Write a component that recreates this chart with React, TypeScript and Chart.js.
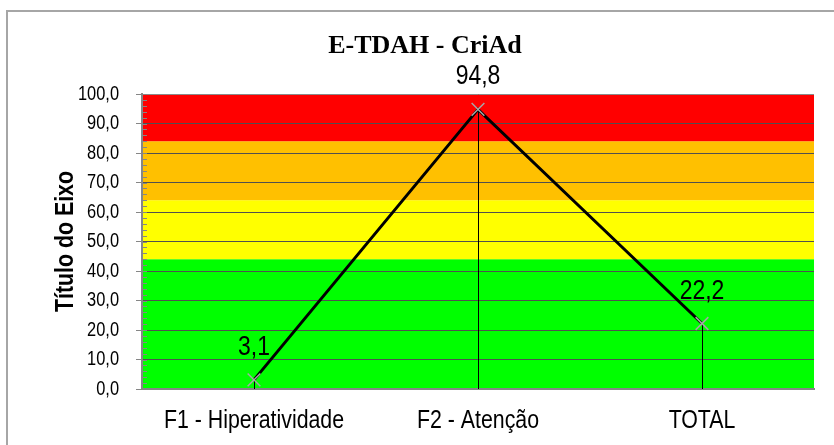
import React, { useEffect, useRef } from 'react';
import { Chart, registerables } from 'chart.js';

Chart.register(...registerables);

const chartTitle = 'E-TDAH - CriAd';
const yAxisTitle = 'Título do Eixo';
const categories = ['F1 - Hiperatividade', 'F2 - Atenção', 'TOTAL'];
const scores = [3.1, 94.8, 22.2];
const bandLimits = [0, 44, 64, 84, 100];
const bandColors = ['#00FF00', '#FFFF00', '#FFC000', '#FF0000'];
const yMin = 0;
const yMax = 100;
const yStep = 10;
const yMinorStep = 2;

const SANS = '"Liberation Sans", Arial, sans-serif';
const SERIF = '"Liberation Serif", "Times New Roman", serif';
const CONDENSE = 0.82; // the reference uses a narrow sans face
const fmt = (v: number) => v.toFixed(1).replace('.', ',');

let textScaleX = CONDENSE;

function condenseText(ctx: any) {
  if (ctx.__condensed) return;
  const orig = ctx.fillText.bind(ctx);
  ctx.fillText = (text: string, x: number, y: number, maxWidth?: number) => {
    if (textScaleX === 1) {
      if (maxWidth === undefined) orig(text, x, y);
      else orig(text, x, y, maxWidth);
      return;
    }
    ctx.save();
    ctx.translate(x, y);
    ctx.scale(textScaleX, 1);
    orig(text, 0, 0);
    ctx.restore();
  };
  ctx.__condensed = true;
}

const bandsPlugin = {
  id: 'bands',
  beforeDraw(chart: any) {
    const { ctx, chartArea, scales } = chart;
    ctx.save();
    ctx.fillStyle = '#ffffff';
    ctx.fillRect(0, 0, chart.width, chart.height);
    const y = scales.y;
    for (let i = 0; i < bandColors.length; i++) {
      const top = y.getPixelForValue(bandLimits[i + 1]);
      const bottom = y.getPixelForValue(bandLimits[i]);
      ctx.fillStyle = bandColors[i];
      ctx.fillRect(chartArea.left, top, chartArea.right - chartArea.left, bottom - top);
    }
    ctx.restore();
  },
};

const decorPlugin = {
  id: 'decor',
  beforeDatasetsDraw(chart: any) {
    const { ctx, chartArea, scales } = chart;
    const y = scales.y;
    ctx.save();
    ctx.strokeStyle = '#868686';
    ctx.lineWidth = 1;
    ctx.beginPath();
    for (let v = yMin; v <= yMax; v += yMinorStep) {
      const py = Math.round(y.getPixelForValue(v)) + 0.5;
      ctx.moveTo(chartArea.left, py);
      ctx.lineTo(chartArea.left + 5, py);
    }
    ctx.stroke();
    const meta = chart.getDatasetMeta(0);
    ctx.strokeStyle = '#000000';
    ctx.beginPath();
    meta.data.forEach((el: any) => {
      const px = Math.round(el.x) + 0.5;
      ctx.moveTo(px, el.y);
      ctx.lineTo(px, chartArea.bottom);
    });
    ctx.stroke();
    ctx.restore();
  },
  afterDatasetsDraw(chart: any) {
    const { ctx } = chart;
    const meta = chart.getDatasetMeta(0);
    ctx.save();
    ctx.fillStyle = '#000000';
    ctx.font = `28px ${SANS}`;
    ctx.textAlign = 'center';
    ctx.textBaseline = 'alphabetic';
    meta.data.forEach((el: any, i: number) => {
      ctx.fillText(fmt(scores[i]), el.x, el.y - 25);
    });
    textScaleX = 1;
    ctx.font = `bold 26px ${SERIF}`;
    ctx.fillText(chartTitle, 425, 53);
    textScaleX = CONDENSE;
    ctx.strokeStyle = '#a6a6a6';
    ctx.lineWidth = 2;
    ctx.strokeRect(7, 11, chart.width + 20, chart.height + 20);
    ctx.restore();
  },
};

export default function App() {
  const ref = useRef<HTMLCanvasElement | null>(null);
  useEffect(() => {
    document.body.style.margin = '0';
    const canvas = ref.current;
    if (!canvas) return;
    const c2d = canvas.getContext('2d');
    if (c2d) condenseText(c2d);
    const chart = new Chart(canvas, {
      type: 'line',
      data: {
        labels: categories,
        datasets: [
          {
            data: scores,
            borderColor: '#000000',
            borderWidth: 3,
            pointStyle: 'crossRot',
            pointRadius: 9,
            pointBorderColor: '#a6a6a6',
            pointBorderWidth: 1.5,
            pointBackgroundColor: '#a6a6a6',
            tension: 0,
          },
        ],
      },
      options: {
        responsive: false,
        animation: false,
        devicePixelRatio: 1,
        layout: { padding: { top: 94, right: 20, left: 0, bottom: 0 } },
        plugins: {
          legend: { display: false },
          title: { display: false },
          tooltip: { enabled: false },
        },
        scales: {
          x: {
            offset: true,
            grid: { display: false, drawTicks: false },
            border: { display: true, color: '#868686', width: 2 },
            ticks: {
              color: '#000000',
              font: { family: SANS, size: 26 },
              padding: 16,
              maxRotation: 0,
              autoSkip: false,
            },
            afterFit(scale: any) {
              scale.height = 56;
            },
          },
          y: {
            min: yMin,
            max: yMax,
            grid: {
              color: (c: any) => (c.tick && c.tick.value === yMax ? '#8a8a8a' : '#505050'),
              tickColor: '#868686',
              tickLength: 6,
              lineWidth: 1,
            },
            border: { display: true, color: '#868686', width: 2 },
            ticks: {
              stepSize: yStep,
              color: '#000000',
              font: { family: SANS, size: 20 },
              padding: 17,
              callback: (v: any) => fmt(Number(v)),
            },
            title: {
              display: true,
              text: yAxisTitle,
              color: '#000000',
              font: { family: SANS, size: 26, weight: 'bold' },
              padding: { top: 50, bottom: 0 },
            },
            afterFit(scale: any) {
              scale.width = 142;
            },
          },
        },
      },
      plugins: [bandsPlugin, decorPlugin],
    });
    return () => chart.destroy();
  }, []);
  return (
    <div style={{ position: 'fixed', left: 0, top: 0, width: 834, height: 445 }}>
      <canvas ref={ref} width={834} height={445} style={{ width: 834, height: 445, display: 'block' }} />
    </div>
  );
}
